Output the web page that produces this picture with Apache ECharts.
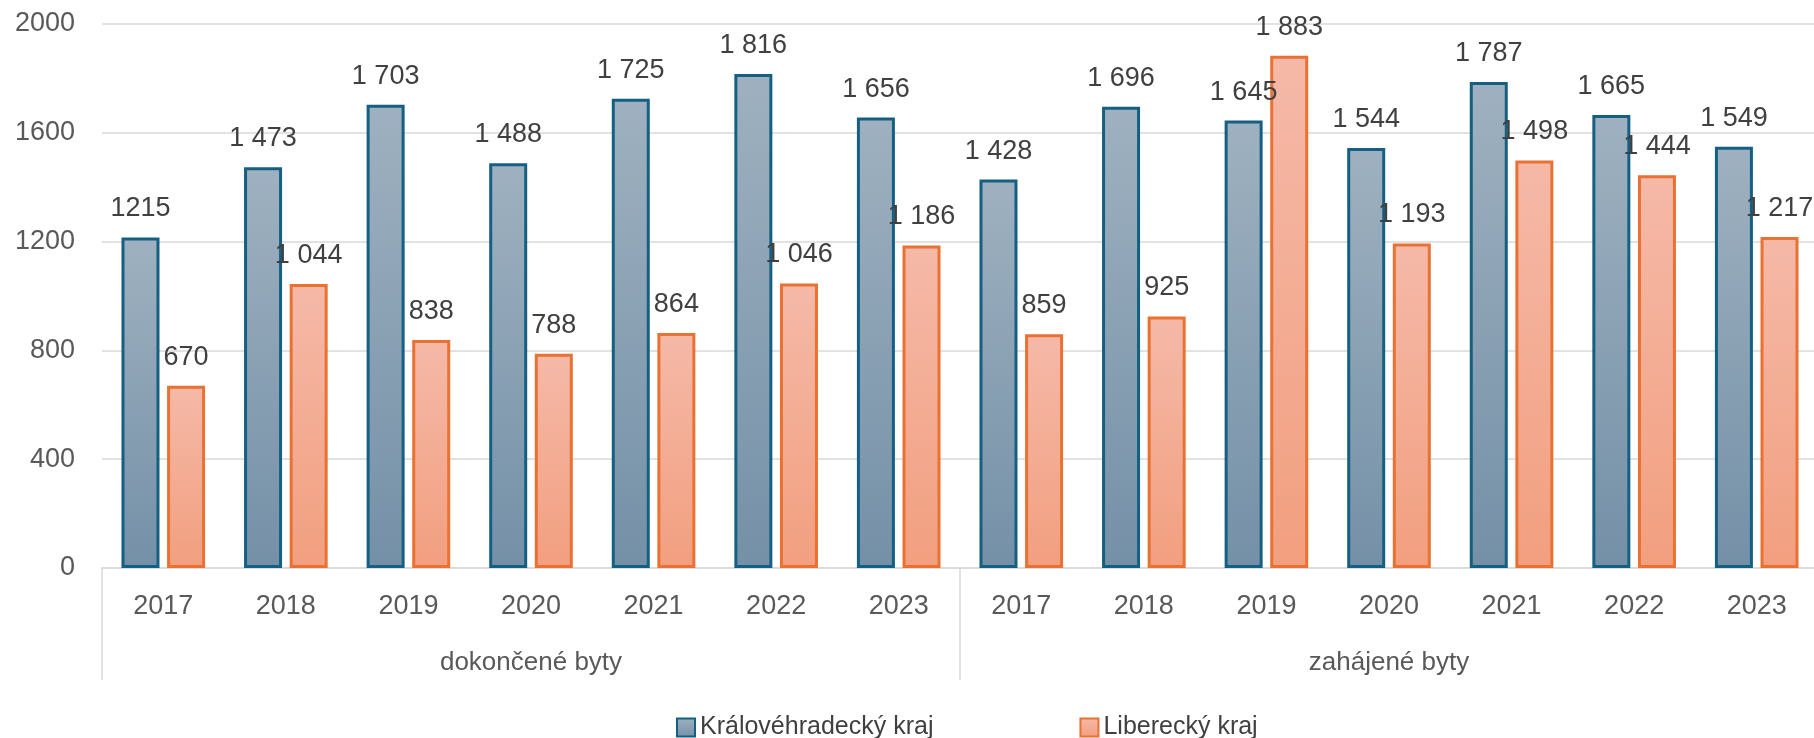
<!DOCTYPE html>
<html>
<head>
<meta charset="utf-8">
<script src="https://cdn.jsdelivr.net/npm/echarts@6/dist/echarts.min.js"></script>
<style>
html,body{margin:0;padding:0;background:#fff;}
#chart{width:1814px;height:738px;}
</style>
</head>
<body>
<div id="chart"></div>
<script>
var years = ['2017','2018','2019','2020','2021','2022','2023','2017','2018','2019','2020','2021','2022','2023'];
var groups = ['dokončené byty', 'zahájené byty'];
var seriesNames = ['Královéhradecký kraj', 'Liberecký kraj'];
var kralovehradecky = [1215, 1473, 1703, 1488, 1725, 1816, 1656, 1428, 1696, 1645, 1544, 1787, 1665, 1549];
var liberecky = [670, 1044, 838, 788, 864, 1046, 1186, 859, 925, 1883, 1193, 1498, 1444, 1217];
var yTicks = { min: 0, max: 2000, interval: 400 };
// data labels printed without thousands separator in the original (series index -> data indices)
var plainLabels = { 0: [0] };

var FONT = '"Liberation Sans", Arial, sans-serif';

function fmt(p) {
  var v = p.value;
  var plain = plainLabels[p.seriesIndex] && plainLabels[p.seriesIndex].indexOf(p.dataIndex) >= 0;
  if (v >= 1000 && !plain) {
    return Math.floor(v / 1000) + ' ' + String(v % 1000).padStart(3, '0');
  }
  return String(v);
}

function grad(top, bottom) {
  return new echarts.graphic.LinearGradient(0, 0, 0, 1, [
    { offset: 0, color: top }, { offset: 1, color: bottom }
  ]);
}

var chart = echarts.init(document.getElementById('chart'), null, { renderer: 'canvas' });
chart.setOption({
  animation: false,
  backgroundColor: '#ffffff',
  grid: { left: 102, right: -4, top: 24, bottom: 170, containLabel: false, outerBoundsMode: 'none' },
  legend: {
    left: 671, top: 710,
    itemWidth: 18, itemHeight: 18, itemGap: 146,
    icon: 'rect',
    textStyle: { fontFamily: FONT, fontSize: 25, color: '#404040' },
    data: seriesNames
  },
  xAxis: [
    {
      type: 'category', data: years, gridIndex: 0, position: 'bottom',
      axisLine: { show: true, lineStyle: { color: '#d9d9d9', width: 1.5 } },
      axisTick: { show: false },
      axisLabel: { interval: 0, margin: 25, fontFamily: FONT, fontSize: 27, color: '#595959' }
    },
    {
      type: 'category', data: groups, gridIndex: 0, position: 'bottom',
      axisLine: { show: false },
      axisTick: { show: true, interval: 0, length: 112, lineStyle: { color: '#d9d9d9', width: 1.5 } },
      axisLabel: { interval: 0, margin: 82, fontFamily: FONT, fontSize: 26, color: '#595959' }
    }
  ],
  yAxis: {
    type: 'value', min: yTicks.min, max: yTicks.max, interval: yTicks.interval,
    axisLine: { show: false }, axisTick: { show: false },
    splitLine: { lineStyle: { color: '#d9d9d9', width: 1.5 } },
    axisLabel: { margin: 27, fontFamily: FONT, fontSize: 27, color: '#595959', formatter: function (v) { return String(v); } }
  },
  series: [
    {
      name: seriesNames[0], type: 'bar', xAxisIndex: 0, data: kralovehradecky,
      barWidth: 38, barGap: '20%',
      itemStyle: { color: grad('#9fb1c0', '#7490a7'), borderColor: '#156082', borderWidth: 3 },
      label: { show: true, position: 'top', distance: 15, formatter: fmt, fontFamily: FONT, fontSize: 27, color: '#404040' }
    },
    {
      name: seriesNames[1], type: 'bar', xAxisIndex: 0, data: liberecky,
      barWidth: 38, barGap: '20%',
      itemStyle: { color: grad('#f5b9a8', '#f29f7f'), borderColor: '#e97132', borderWidth: 3 },
      label: { show: true, position: 'top', distance: 15, formatter: fmt, fontFamily: FONT, fontSize: 27, color: '#404040' }
    }
  ]
});
</script>
</body>
</html>
